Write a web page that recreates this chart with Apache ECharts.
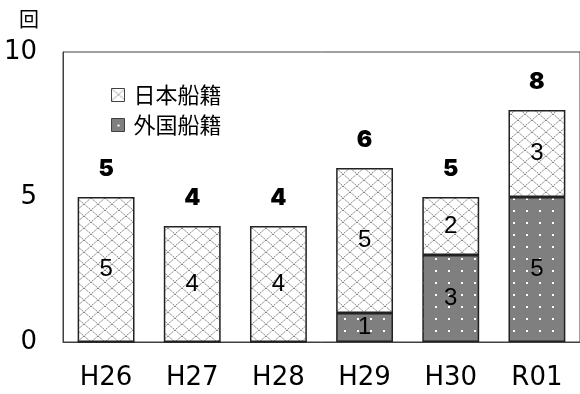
<!DOCTYPE html>
<html>
<head>
<meta charset="utf-8">
<script src="https://cdn.jsdelivr.net/npm/echarts@6/dist/echarts.min.js"></script>
<style>html,body{margin:0;padding:0;background:#fff}#c{width:580px;height:394px}</style>
</head>
<body>
<div id="c"></div>
<script>
const categories = ['H26', 'H27', 'H28', 'H29', 'H30', 'R01'];
const japanese = [5, 4, 4, 5, 2, 3];
const foreign = [0, 0, 0, 1, 3, 5];
const seriesNames = ['日本船籍', '外国船籍'];
const yUnit = '回';

const totals = categories.map((_, i) => japanese[i] + foreign[i]);

function hatchPattern() {
  const c = document.createElement('canvas');
  c.width = 14; c.height = 12;
  const g = c.getContext('2d');
  g.fillStyle = '#ffffff'; g.fillRect(0, 0, 14, 12);
  g.strokeStyle = '#808080'; g.lineWidth = 1;
  g.setLineDash([2, 1]);
  g.beginPath();
  g.moveTo(0, 0); g.lineTo(14, 12);
  g.moveTo(14, 0); g.lineTo(0, 12);
  g.stroke();
  return c;
}
function dotPattern() {
  const c = document.createElement('canvas');
  c.width = 13; c.height = 12;
  const g = c.getContext('2d');
  g.fillStyle = '#7f7f7f'; g.fillRect(0, 0, 13, 12);
  g.fillStyle = '#ffffff'; g.fillRect(6, 6, 2, 2);
  return c;
}

const chart = echarts.init(document.getElementById('c'), null, {renderer: 'canvas'});
const inLabel = {show: true, position: 'inside', color: '#000', fontSize: 24, fontFamily: 'Liberation Sans, Arial, sans-serif',
  formatter: p => p.value > 0 ? String(p.value) : ''};
chart.setOption({
  animation: false,
  grid: {left: 63, top: 52, width: 519, height: 290, show: true, borderColor: '#404040', borderWidth: 1},
  legend: {
    data: [seriesNames[0], seriesNames[1]],
    orient: 'vertical', left: 106, top: 79, itemWidth: 13, itemHeight: 13, itemGap: 8,
    icon: 'rect',
    textStyle: {fontSize: 22, color: '#000', fontFamily: 'Noto Sans CJK JP, sans-serif', padding: [0, 0, 0, 4]},
    itemStyle: {borderColor: '#404040', borderWidth: 1}
  },
  xAxis: {
    type: 'category', data: categories,
    axisLine: {lineStyle: {color: '#404040', width: 1}},
    axisTick: {show: false},
    axisLabel: {fontSize: 26, color: '#000', margin: 23, fontFamily: 'DejaVu Sans, Verdana, sans-serif'}
  },
  yAxis: {
    type: 'value', min: 0, max: 10, interval: 5,
    name: yUnit, nameLocation: 'end', nameGap: 23,
    nameTextStyle: {fontSize: 20, color: '#000', align: 'right', padding: [0, 24, 0, 0], fontFamily: 'Noto Sans CJK JP, sans-serif'},
    axisLine: {show: true, lineStyle: {color: '#404040', width: 1}},
    axisTick: {show: false},
    splitLine: {show: false},
    axisLabel: {fontSize: 26, color: '#000', margin: 26, fontFamily: 'DejaVu Sans, Verdana, sans-serif'}
  },
  series: [
    {
      name: seriesNames[1], type: 'bar', stack: 's', data: foreign, barWidth: '66%',
      itemStyle: {color: {image: dotPattern(), repeat: 'repeat'}, borderColor: '#222', borderWidth: 1.5},
      label: inLabel
    },
    {
      name: seriesNames[0], type: 'bar', stack: 's', data: japanese, barWidth: '66%',
      itemStyle: {color: {image: hatchPattern(), repeat: 'repeat'}, borderColor: '#222', borderWidth: 1.5},
      label: inLabel
    },
    {
      name: 'total', type: 'line', data: totals, symbol: 'circle', symbolSize: 1, silent: true,
      lineStyle: {opacity: 0}, itemStyle: {color: 'rgba(0,0,0,0)'}, tooltip: {show: false},
      label: {show: true, position: 'top', distance: 16, fontSize: 23, fontWeight: 900, color: '#000',
        fontFamily: 'Inter, DejaVu Sans, sans-serif'}
    }
  ]
});
</script>
</body>
</html>
